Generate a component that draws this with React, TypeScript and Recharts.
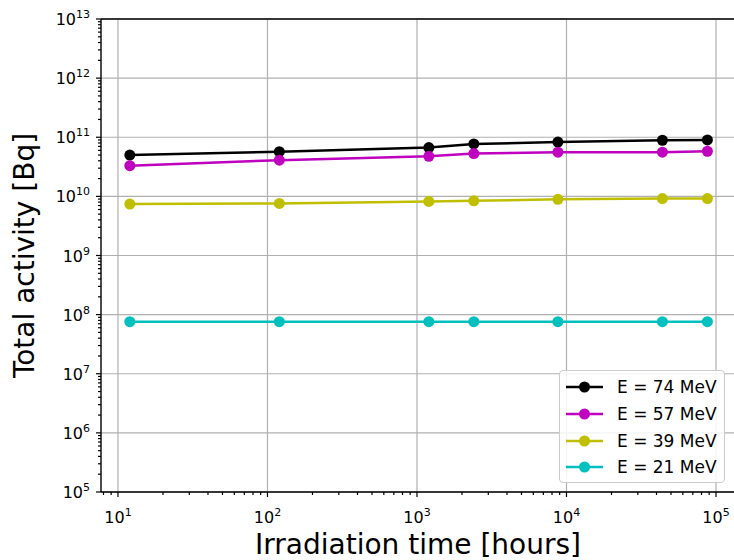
import { LineChart, Line, XAxis, YAxis, ReferenceLine, Legend } from 'recharts'

const hours = [12, 120, 1200, 2400, 8760, 43800, 87600]
const e74 = [5.0e10, 5.7e10, 6.7e10, 7.7e10, 8.3e10, 8.9e10, 9.0e10]
const e57 = [3.3e10, 4.1e10, 4.75e10, 5.3e10, 5.6e10, 5.6e10, 5.8e10]
const e39 = [7.4e9, 7.6e9, 8.2e9, 8.4e9, 8.9e9, 9.2e9, 9.2e9]
const e21 = [7.6e7, 7.6e7, 7.6e7, 7.6e7, 7.6e7, 7.6e7, 7.6e7]

const xMajor = [10, 100, 1000, 10000, 100000]
const yMajor = [1e5, 1e6, 1e7, 1e8, 1e9, 1e10, 1e11, 1e12, 1e13]
const xDomain = [7.7, 134000]
const yDomain = [1e5, 1e13]

const series = [
  { key: 'e74', name: 'E = 74 MeV', color: '#000000' },
  { key: 'e57', name: 'E = 57 MeV', color: '#bf00bf' },
  { key: 'e39', name: 'E = 39 MeV', color: '#bfbf00' },
  { key: 'e21', name: 'E = 21 MeV', color: '#00bfbf' },
]

const data = hours.map((h, i) => ({ h, e74: e74[i], e57: e57[i], e39: e39[i], e21: e21[i] }))

// minor ticks at 2..9 x each decade, inside the domain
const minors = (lo: number, hi: number) => {
  const out: number[] = []
  for (let d = Math.floor(Math.log10(lo)); d <= Math.ceil(Math.log10(hi)); d++) {
    for (let m = 1; m <= 9; m++) {
      const v = m * Math.pow(10, d)
      if (v >= lo && v <= hi) out.push(v)
    }
  }
  return out
}
const xTicks = minors(xDomain[0], xDomain[1])
const yTicks = minors(yDomain[0], yDomain[1])

const FONT = 'DejaVu Sans, sans-serif'
const isMajor = (v: number) => Math.abs(Math.log10(v) - Math.round(Math.log10(v))) < 1e-6

const XTick = (props: any) => {
  const { x, y, payload } = props
  const v = payload.value
  const major = isMajor(v)
  return (
    <g>
      <line x1={x} x2={x} y1={y} y2={y + (major ? 5 : 3)} stroke="#000" strokeWidth={1.2} />
      {major && (
        <text x={x} y={y + 31} textAnchor="middle" fontSize={16} fontFamily={FONT} fill="#000">
          <tspan>10</tspan>
          <tspan dy={-7} fontSize={11}>{Math.round(Math.log10(v))}</tspan>
        </text>
      )}
    </g>
  )
}

const YTick = (props: any) => {
  const { x, y, payload } = props
  const v = payload.value
  const major = isMajor(v)
  return (
    <g>
      <line x1={x} x2={x - (major ? 5 : 3)} y1={y} y2={y} stroke="#000" strokeWidth={1.2} />
      {major && (
        <text x={x - 11} y={y + 6} textAnchor="end" fontSize={16} fontFamily={FONT} fill="#000">
          <tspan>10</tspan>
          <tspan dy={-7} fontSize={11}>{Math.round(Math.log10(v))}</tspan>
        </text>
      )}
    </g>
  )
}

const LegendBox = () => (
  <div
    style={{
      background: 'rgba(255,255,255,0.85)',
      border: '1px solid #cccccc',
      borderRadius: 4,
      padding: '3px 0 1px 0',
      fontFamily: FONT,
      fontSize: 17,
      color: '#000',
    }}
  >
    {series.map((s) => (
      <div key={s.key} style={{ display: 'flex', alignItems: 'center', height: 26.7 }}>
        <svg width={37} height={14} style={{ marginLeft: 6, marginRight: 14 }}>
          <line x1={0} x2={37} y1={7} y2={7} stroke={s.color} strokeWidth={2.5} />
          <circle cx={18.5} cy={7} r={5.5} fill={s.color} />
        </svg>
        <span>{s.name}</span>
      </div>
    ))}
  </div>
)

export default function App() {
  return (
    <div style={{ position: 'absolute', left: 0, top: 0, width: 734, height: 560, overflow: 'hidden', background: '#fff' }}>
      <LineChart width={738} height={560} data={data} margin={{ top: 19, right: 3, bottom: 0, left: 0 }}>
        <XAxis
          dataKey="h"
          type="number"
          scale="log"
          domain={xDomain}
          allowDataOverflow
          ticks={xTicks}
          interval={0}
          tick={XTick}
          tickLine={false}
          tickSize={0}
          tickMargin={0}
          height={68}
          axisLine={{ stroke: '#000', strokeWidth: 1.4 }}
          label={{
            content: (p: any) => (
              <text
                x={p.viewBox.x + p.viewBox.width / 2}
                y={p.viewBox.y + 62}
                textAnchor="middle"
                fontSize={28}
                fontFamily={FONT}
                fill="#000"
              >
                Irradiation time [hours]
              </text>
            ),
          }}
        />
        <YAxis
          type="number"
          scale="log"
          domain={yDomain}
          allowDataOverflow
          ticks={yTicks}
          interval={0}
          tick={YTick}
          tickLine={false}
          tickSize={0}
          tickMargin={0}
          width={101}
          axisLine={{ stroke: '#000', strokeWidth: 1.4 }}
          label={{
            content: (p: any) => {
              const cy = p.viewBox.y + p.viewBox.height / 2
              return (
                <text
                  x={34}
                  y={cy}
                  transform={`rotate(-90 34 ${cy})`}
                  textAnchor="middle"
                  fontSize={28}
                  fontFamily={FONT}
                  fill="#000"
                >
                  Total activity [Bq]
                </text>
              )
            },
          }}
        />
        {xMajor.map((v) => (
          <ReferenceLine key={'gx' + v} x={v} stroke="#b0b0b0" strokeWidth={1.2} />
        ))}
        {yMajor.map((v) => (
          <ReferenceLine key={'gy' + v} y={v} stroke="#b0b0b0" strokeWidth={1.2} />
        ))}
        <ReferenceLine y={yDomain[1]} stroke="#000" strokeWidth={1.4} />
        <ReferenceLine x={xDomain[1]} stroke="#000" strokeWidth={1.4} />
        {series.map((s) => (
          <Line
            key={s.key}
            dataKey={s.key}
            name={s.name}
            stroke={s.color}
            strokeWidth={2.5}
            dot={{ r: 5.5, fill: s.color, stroke: s.color, strokeWidth: 0 }}
            activeDot={false}
            isAnimationActive={false}
          />
        ))}
        <Legend
          layout="vertical"
          align="center"
          verticalAlign="middle"
          content={LegendBox}
          wrapperStyle={{ position: 'absolute', left: 559, top: 370, width: 166 }}
        />
      </LineChart>
    </div>
  )
}
